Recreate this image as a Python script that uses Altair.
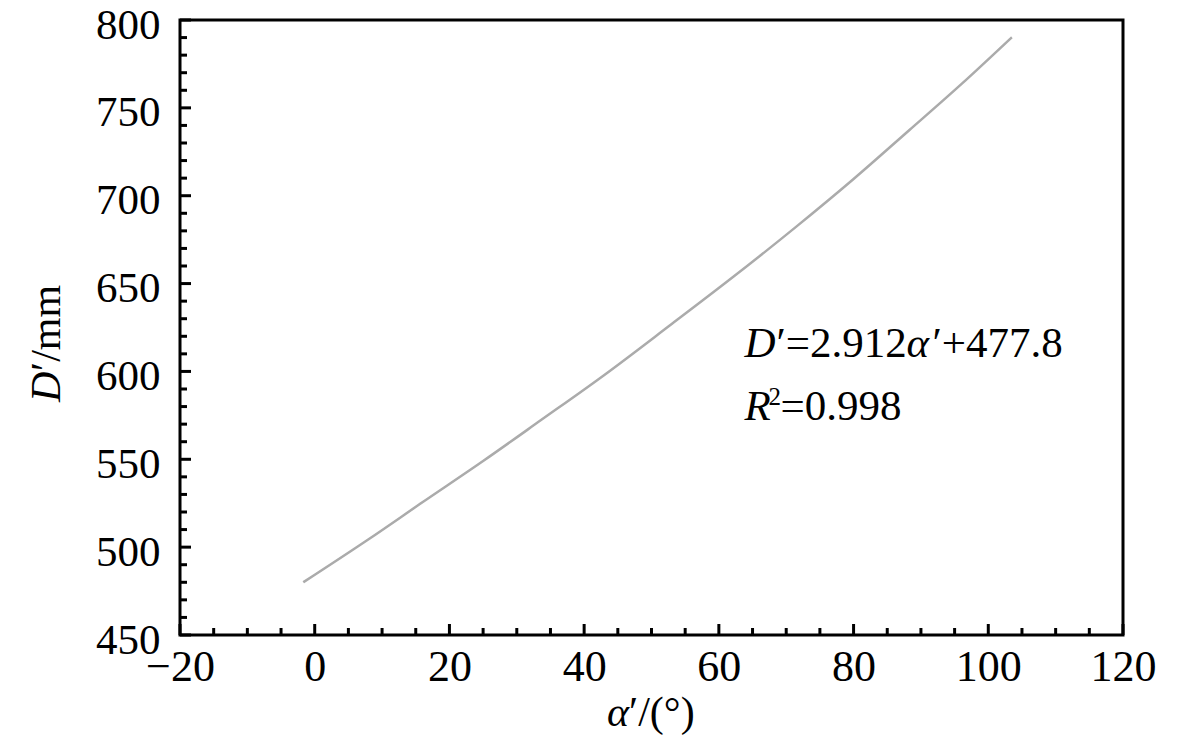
import altair as alt
import pandas as pd

# Curve
alpha = [-1.7, 8.0, 16.1, 25.0, 33.6, 43.0, 52.7, 62.0, 71.5, 80.0, 88.3, 96.0, 103.5]
dval = [480.0, 504.5, 525.8, 549.0, 572.3, 598.0, 626.1, 653.4, 682.4, 709.5, 737.4, 763.5, 790.2]

x_major = [-20, 0, 20, 40, 60, 80, 100, 120]
x_minor = [v for v in range(-15, 120, 5) if v % 20 != 0]
y_major = [450, 500, 550, 600, 650, 700, 750, 800]
y_minor = [v for v in range(460, 800, 10) if v % 50 != 0]

W, H = 943, 615
FONT = "Liberation Serif"

curve = pd.DataFrame({"a": alpha, "d": dval})
xs = alt.Scale(domain=[-20, 120], nice=False, zero=False)
ys = alt.Scale(domain=[450, 800], nice=False, zero=False)

xaxis = alt.Axis(values=x_major, title=None, ticks=False, domain=False, grid=False,
                 labelFont=FONT, labelFontSize=44, labelColor="black", labelPadding=10,
                 labelFlush=False, labelOverlap=False)
yaxis = alt.Axis(values=y_major, title=None, ticks=False, domain=False, grid=False,
                 labelFont=FONT, labelFontSize=43, labelColor="black", labelPadding=20,
                 labelOffset=5, labelFlush=False, labelOverlap=False)

line = alt.Chart(curve).mark_line(color="#ababab", strokeWidth=2.5, interpolate="monotone").encode(
    x=alt.X("a:Q", scale=xs, axis=xaxis),
    y=alt.Y("d:Q", scale=ys, axis=yaxis),
)

def xticks(vals, length):
    return alt.Chart(pd.DataFrame({"v": vals})).mark_rule(color="black", strokeWidth=3).encode(
        x=alt.X("v:Q", scale=xs), y=alt.value(H), y2=alt.value(H - length))

def yticks(vals, length):
    return alt.Chart(pd.DataFrame({"v": vals})).mark_rule(color="black", strokeWidth=3).encode(
        y=alt.Y("v:Q", scale=ys), x=alt.value(0), x2=alt.value(length))

def txt(s, x, y, dx=0, dy=0, size=43, italic=False, angle=0):
    return alt.Chart(pd.DataFrame({"t": [s]})).mark_text(
        text=s, font=FONT, fontSize=size, fontStyle="italic" if italic else "normal",
        align="left", baseline="alphabetic", color="black", dx=dx, dy=dy, angle=angle,
    ).encode(x=x, y=y)

# annotation anchored in data coordinates
ax1, ay1 = alt.X(datum=63.8, scale=xs), alt.Y(datum=608.4, scale=ys)
ax2, ay2 = alt.X(datum=63.8, scale=xs), alt.Y(datum=572.3, scale=ys)

ann = [
    txt("D", ax1, ay1, dx=0, italic=True),
    txt("′=2.912", ax1, ay1, dx=32),
    txt("α", ax1, ay1, dx=162, italic=True),
    txt("′+477.8", ax1, ay1, dx=188),
    txt("R", ax2, ay2, dx=0, italic=True),
    txt("2", ax2, ay2, dx=24, dy=-15, size=25),
    txt("=0.998", ax2, ay2, dx=36),
]

# axis titles (pixel positions relative to plot area)
xt_x, xt_y = alt.value(427), alt.value(706)
yt_x, yt_y = alt.value(-120), alt.value(382)
titles = [
    txt("α", xt_x, xt_y, dx=0, size=42, italic=True),
    txt("′/(°)", xt_x, xt_y, dx=22, size=42),
    txt("D", yt_x, yt_y, dx=0, size=42, italic=True, angle=270),
    txt("′/mm", yt_x, yt_y, dx=31, size=42, angle=270),
]

chart = alt.layer(
    line,
    xticks(x_major, 11), xticks(x_minor, 7),
    yticks(y_major, 11), yticks(y_minor, 7),
    *ann, *titles,
).properties(
    width=W, height=H,
    background="white",
    autosize=alt.AutoSizeParams(type="none"),
    padding={"left": 172, "top": 12, "right": 42, "bottom": 102},
).configure_view(stroke="black", strokeWidth=3)

chart.save("out.html", embed_options={"renderer": "svg", "actions": False})
